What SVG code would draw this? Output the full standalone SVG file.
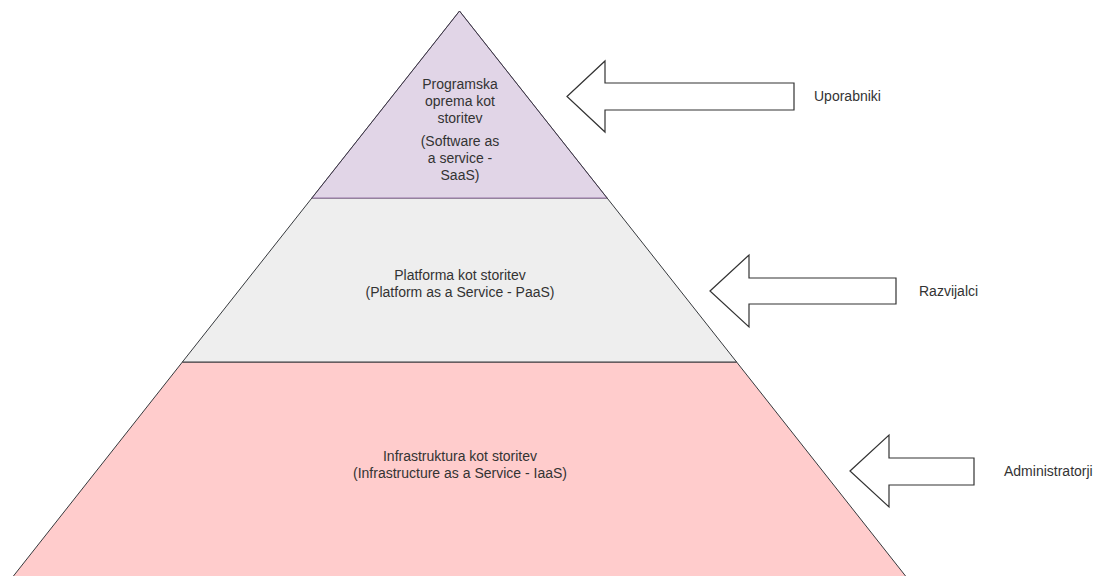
<svg xmlns="http://www.w3.org/2000/svg" width="1108" height="576" viewBox="0 0 1108 576">
  <style>
    .t { font-family: "Liberation Sans", Arial, sans-serif; font-size: 14px; fill: #333333; }
    .c { text-anchor: middle; }
    .arrow { fill: #ffffff; stroke: #333333; stroke-width: 1.2; stroke-linejoin: miter; }
  </style>
  <rect x="0" y="0" width="1108" height="576" fill="#ffffff"/>
  <g id="iaas">
    <polygon points="182.4,362 736.6,362 908.7,580 10.3,580" fill="#ffcccc" stroke="#36393d" stroke-width="1"/>
    <text class="t c" x="460" y="461">Infrastruktura kot storitev</text>
    <text class="t c" x="460" y="478">(Infrastructure as a Service - IaaS)</text>
  </g>
  <g id="paas">
    <polygon points="311.9,198 607.1,198 736.6,362 182.4,362" fill="#eeeeee" stroke="#36393d" stroke-width="1"/>
    <text class="t c" x="460" y="280">Platforma kot storitev</text>
    <text class="t c" x="460" y="297">(Platform as a Service - PaaS)</text>
  </g>
  <g id="saas">
    <polygon points="459.5,11 607.1,198 311.9,198" fill="#e1d5e7" stroke="#9673a6" stroke-width="1"/>
    <path d="M459.5,11 L607.1,198 M459.5,11 L311.9,198" fill="none" stroke="#36393d" stroke-width="1"/>
    <text class="t c" x="460" y="89">Programska</text>
    <text class="t c" x="460" y="106">oprema kot</text>
    <text class="t c" x="460" y="123">storitev</text>
    <text class="t c" x="460" y="146">(Software as</text>
    <text class="t c" x="460" y="163">a service -</text>
    <text class="t c" x="460" y="180">SaaS)</text>
  </g>
  <g id="connectors">
    <polygon class="arrow" points="567,96.5 605,61 605,83 794,83 794,110 605,110 605,132"/>
    <polygon class="arrow" points="710,291 749,255 749,278 896,278 896,304 749,304 749,327"/>
    <polygon class="arrow" points="850,471 889,435 889,458 974,458 974,485 889,485 889,507"/>
  </g>
  <g id="uporabniki">
    <text class="t" x="814" y="101">Uporabniki</text>
  </g>
  <g id="razvijalci">
    <text class="t" x="919" y="296">Razvijalci</text>
  </g>
  <g id="administratorji">
    <text class="t" x="1004" y="476">Administratorji</text>
  </g>
</svg>
